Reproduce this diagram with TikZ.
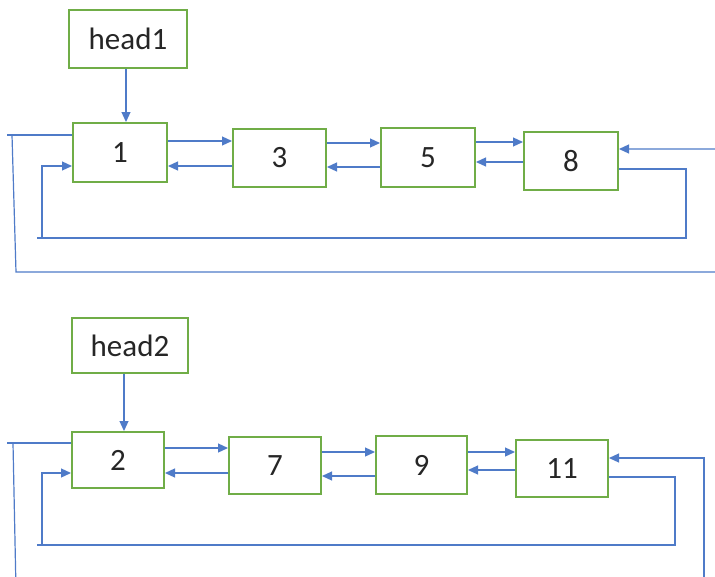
\documentclass[tikz,border=0pt]{standalone}
\usepackage{fontspec}
\setmainfont{Carlito}
\usetikzlibrary{arrows.meta}
\definecolor{boxgreen}{HTML}{70AD47}
\definecolor{lineblue}{HTML}{4F7BC8}
\begin{document}
\begin{tikzpicture}[x=1pt,y=-1pt,
  nodebox/.style={draw=boxgreen,line width=2pt,fill=white,rectangle,inner sep=0pt,
    font=\fontsize{31}{37}\selectfont, text=black!85},
  link/.style={draw=lineblue,line width=1.2pt},
  arr/.style={link,-{Triangle[length=10pt,width=9pt]}}]
\useasboundingbox (0,0) rectangle (715,576);
\clip (0,0) rectangle (715,576);
% top list
\node[nodebox,minimum width=118pt,minimum height=58pt] (h1) at (128,39) {head1};
\node[nodebox,minimum width=94pt,minimum height=59pt] (b1) at (120,152.5) {1};
\node[nodebox,minimum width=93pt,minimum height=58pt] (b3) at (279.5,158) {3};
\node[nodebox,minimum width=94pt,minimum height=59pt] (b5) at (428,157.5) {5};
\node[nodebox,minimum width=94pt,minimum height=58pt] (b8) at (571,161) {8};
\draw[arr] (h1.south -| 126,0) -- (b1.north -| 126,0);
\draw[arr] (b1.east |- 0,141) -- (b3.west |- 0,141);
\draw[arr] (b3.west |- 0,166) -- (b1.east |- 0,166);
\draw[arr] (b3.east |- 0,143) -- (b5.west |- 0,143);
\draw[arr] (b5.west |- 0,167) -- (b3.east |- 0,167);
\draw[arr] (b5.east |- 0,142) -- (b8.west |- 0,142);
\draw[arr] (b8.west |- 0,162) -- (b5.east |- 0,162);
\coordinate (t1) at (7,135);
\coordinate (t2) at (12,135);
\coordinate (t3) at (16,272);
\coordinate (t4) at (730,272);
\coordinate (t5) at (730,149);
\draw[link] (b1.west |- 0,135) -- (t1);
\draw[arr] (t2) -- (t3) -- (t4) -- (t5) -- (b8.east |- 0,149);
\coordinate (i1) at (686,169);
\coordinate (i2) at (686,238);
\coordinate (i3) at (37,238);
\coordinate (i4) at (42,238);
\coordinate (i5) at (42,166);
\draw[link] (b8.east |- 0,169) -- (i1) -- (i2) -- (i3);
\draw[arr] (i4) -- (i5) -- (b1.west |- 0,166);
% bottom list
\node[nodebox,minimum width=116pt,minimum height=55pt] (h2) at (130,345.5) {head2};
\node[nodebox,minimum width=92pt,minimum height=56pt] (b2) at (118,460) {2};
\node[nodebox,minimum width=92pt,minimum height=57pt] (b7) at (275,465.5) {7};
\node[nodebox,minimum width=91pt,minimum height=58pt] (b9) at (421.5,465) {9};
\node[nodebox,minimum width=92pt,minimum height=57pt] (b11) at (562,468.5) {11};
\draw[arr] (h2.south -| 124,0) -- (b2.north -| 124,0);
\draw[arr] (b2.east |- 0,448) -- (b7.west |- 0,448);
\draw[arr] (b7.west |- 0,473) -- (b2.east |- 0,473);
\draw[arr] (b7.east |- 0,452) -- (b9.west |- 0,452);
\draw[arr] (b9.west |- 0,476) -- (b7.east |- 0,476);
\draw[arr] (b9.east |- 0,452) -- (b11.west |- 0,452);
\draw[arr] (b11.west |- 0,470) -- (b9.east |- 0,470);
\coordinate (u1) at (7,443);
\coordinate (u2) at (13,443);
\coordinate (u3) at (16,590);
\coordinate (u4) at (704,590);
\coordinate (u5) at (704,458);
\draw[link] (b2.west |- 0,443) -- (u1);
\draw[link] (u2) -- (u3);
\draw[arr] (u4) -- (u5) -- (b11.east |- 0,458);
\coordinate (j1) at (675,477);
\coordinate (j2) at (675,545);
\coordinate (j3) at (37,545);
\coordinate (j4) at (42,545);
\coordinate (j5) at (42,473);
\draw[link] (b11.east |- 0,477) -- (j1) -- (j2) -- (j3);
\draw[arr] (j4) -- (j5) -- (b2.west |- 0,473);
\end{tikzpicture}
\end{document}
